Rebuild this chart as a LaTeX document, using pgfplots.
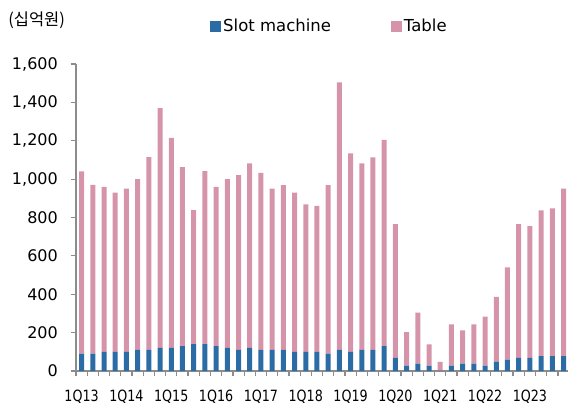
\documentclass[border=0pt]{standalone}
\usepackage{pgfplots}
\pgfplotsset{compat=1.18}
\usepackage{pgfplotstable}
\usepackage{fontspec}
\setmainfont{DejaVu Sans}
\newfontfamily\cjk{Noto Sans CJK KR}
\newfontfamily\narrow[FakeStretch=0.82]{DejaVu Sans}
\definecolor{slotblue}{RGB}{44,108,166}
\definecolor{tablepink}{RGB}{214,148,170}
\definecolor{axgray}{RGB}{140,140,140}

\pgfplotstableread{
x slot table
0 90 950
1 90 880
2 100 860
3 100 830
4 100 850
5 110 890
6 110 1005
7 120 1250
8 120 1095
9 130 932
10 140 698
11 140 902
12 130 830
13 120 880
14 110 911
15 120 962
16 110 922
17 110 840
18 110 859
19 100 829
20 100 768
21 100 760
22 90 879
23 110 1394
24 100 1034
25 110 972
26 110 1003
27 130 1075
28 68 698
29 28 174
30 38 266
31 28 111
32 2 45
33 28 215
34 38 174
35 38 205
36 28 255
37 49 337
38 59 481
39 68 698
40 68 687
41 78 759
42 78 769
43 78 872
}\datatable

\pgfplotsset{mysq/.style={legend image code/.code={\fill[##1,draw=none] (0bp,-6bp) rectangle (11bp,5bp);}}}

\begin{document}
\begin{tikzpicture}
\path[use as bounding box] (0,0) rectangle (568bp,412bp);
\begin{axis}[
  at={(76bp,41bp)}, anchor=south west,
  scale only axis, width=492bp, height=307bp,
  ybar stacked, bar width=5bp,
  xmin=-0.5, xmax=43.4, ymin=0, ymax=1600,
  clip=false,
  axis x line*=bottom, axis y line*=left,
  axis line style={axgray, line width=1.2bp},
  tick align=outside, major tick length=5bp,
  tick style={axgray, line width=1.2bp},
  ytick={0,200,...,1600},
  /pgf/number format/1000 sep={,},
  /pgf/number format/assume math mode=true,
  yticklabel style={font=\fontsize{16bp}{18bp}\selectfont, anchor=east, inner sep=0pt, xshift=-13bp},
  xtick={-0.5,0.5,...,43.5},
  xticklabels={},
  extra x ticks={0,4,...,40},
  extra x tick labels={1Q13,1Q14,1Q15,1Q16,1Q17,1Q18,1Q19,1Q20,1Q21,1Q22,1Q23},
  extra x tick style={major tick length=0pt, tick label style={font=\narrow\fontsize{15.5bp}{17bp}\selectfont, anchor=center, inner sep=0pt, yshift=-26bp}},
  legend style={draw=none, fill=none, at={(0.2724,1.124)}, anchor=west, legend columns=2,
    font=\fontsize{16.5bp}{18bp}\selectfont, inner sep=0pt,
    /tikz/every even column/.append style={column sep=58bp}},
]
\addplot[fill=slotblue, draw=none, mysq] table[x=x,y=slot]{\datatable};
\addlegendentry{Slot machine}
\addplot[fill=tablepink, draw=none, mysq] table[x=x,y=table]{\datatable};
\addlegendentry{Table}
\node[anchor=west, inner sep=0pt, font=\cjk\fontsize{16.5bp}{18bp}\selectfont] at (rel axis cs:-0.138,1.143) {(십억원)};
\end{axis}
\end{tikzpicture}
\end{document}
